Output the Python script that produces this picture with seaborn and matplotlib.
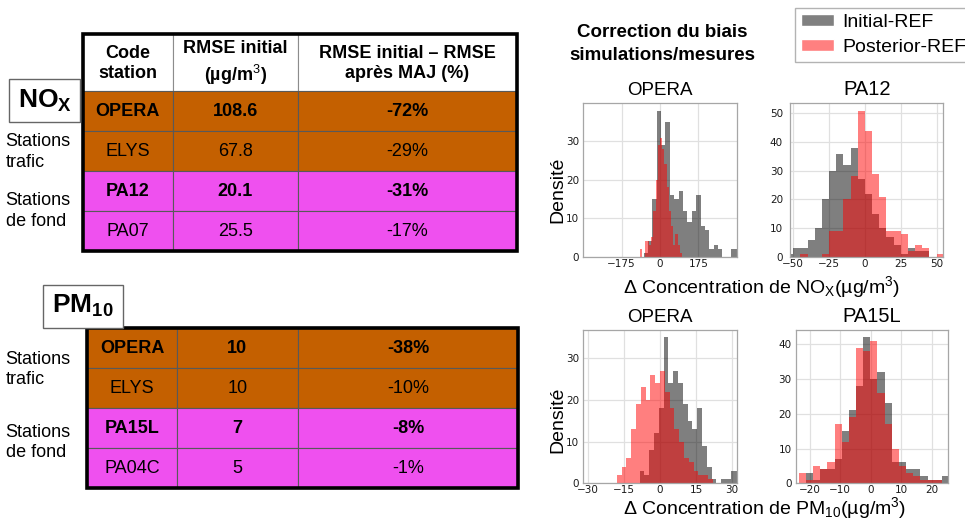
import numpy as np
import pandas as pd
import seaborn as sns
import matplotlib.pyplot as plt
from matplotlib.patches import Rectangle, Patch

# ---------------------------------------------------------------- tables --- #
headers = ['Code\nstation', 'RMSE initial\n(µg/m$^\\mathrm{3}$)', 'RMSE initial – RMSE\naprès MAJ (%)']
nox_codes = ['OPERA', 'ELYS', 'PA12', 'PA07']
nox_rmse = ['108.6', '67.8', '20.1', '25.5']
nox_gain = ['-72%', '-29%', '-31%', '-17%']
pm_codes = ['OPERA', 'ELYS', 'PA15L', 'PA04C']
pm_rmse = ['10', '10', '7', '5']
pm_gain = ['-38%', '-10%', '-8%', '-1%']
row_kind = ['trafic', 'trafic', 'fond', 'fond']
row_bold = [True, False, True, False]
kind_color = {'trafic': '#C46000', 'fond': '#EF50EF'}
kind_label = {'trafic': 'Stations\ntrafic', 'fond': 'Stations\nde fond'}

# ------------------------------------------------------------ histograms --- #
# NOx OPERA
nox_op_init_edges = np.arange(-75, 366, 20)
nox_op_init = [1, 4, 15, 38, 29, 35, 16, 15, 17, 12, 9, 12, 16, 8, 7, 2, 3, 2, 0, 0, 2, 2]
nox_op_post_edges = np.arange(-90, 111, 10)
nox_op_post = [2, 0, 4, 4, 3, 5, 12, 20, 29, 31, 28, 24, 18, 12, 8, 3, 6, 3, 1, 0]
# NOx PA12
nox_pa_edges = np.arange(-55, 56, 5)
nox_pa_init = [1, 3, 3, 6, 10, 20, 30, 36, 32, 38, 27, 22, 15, 10, 7, 4, 1, 3, 2, 2, 0, 0]
nox_pa_post = [0, 0, 1, 0, 0, 1, 9, 9, 20, 28, 51, 44, 29, 21, 9, 9, 8, 2, 4, 3, 0, 1]
# PM10 OPERA
pm_op_init_edges = np.arange(-8.5, 34, 2)
pm_op_init = [3, 2, 8, 12, 18, 35, 24, 27, 24, 19, 15, 13, 18, 9, 4, 1, 0, 1, 1, 3, 3]
pm_op_post_edges = np.arange(-18, 23, 2)
pm_op_post = [2, 4, 6, 13, 19, 23, 20, 26, 24, 27, 22, 18, 13, 10, 6, 5, 3, 2, 2, 1]
# PM10 PA15L
pm_pa_edges = np.linspace(-23.6, 25.75, 22)
pm_pa_init = [0, 3, 1, 4, 4, 7, 15, 21, 28, 42, 30, 32, 23, 6, 6, 4, 4, 2, 1, 1, 2]
pm_pa_post = [3, 1, 5, 4, 6, 17, 12, 19, 39, 38, 41, 26, 17, 10, 5, 3, 2, 1, 1, 1, 0]

W, H = 965, 522

sns.set_theme(style='whitegrid', rc={'axes.edgecolor': '0.65', 'grid.color': '0.88',
                                     'grid.linewidth': 0.9, 'axes.linewidth': 0.9})
plt.rcParams['font.family'] = ['Liberation Sans', 'DejaVu Sans']
plt.rcParams['text.color'] = 'black'
plt.rcParams['axes.titlecolor'] = 'black'
plt.rcParams['mathtext.fontset'] = 'custom'
plt.rcParams['mathtext.rm'] = 'Liberation Sans'
plt.rcParams['mathtext.bf'] = 'Liberation Sans:bold'
plt.rcParams['mathtext.it'] = 'Liberation Sans:italic'

fig = plt.figure(figsize=(W / 100, H / 100), dpi=100)
bg = fig.add_axes([0, 0, 1, 1])
bg.set_xlim(0, W)
bg.set_ylim(H, 0)
bg.axis('off')


def draw_table(ax, col_x, row_y, codes, rmse, gain, header_top=None):
    if header_top is not None:
        for j, txt in enumerate(headers):
            ax.add_patch(Rectangle((col_x[j], header_top), col_x[j + 1] - col_x[j], row_y[0] - header_top,
                                   facecolor='white', edgecolor='0.55', lw=0.8))
            ax.text((col_x[j] + col_x[j + 1]) / 2, (header_top + row_y[0]) / 2 + 1, txt, ha='center',
                    va='center', fontsize=13, fontweight='bold', linespacing=1.3)
    for i, row in enumerate(zip(codes, rmse, gain)):
        y0, y1 = row_y[i], row_y[i + 1]
        for j, txt in enumerate(row):
            x0, x1 = col_x[j], col_x[j + 1]
            ax.add_patch(Rectangle((x0, y0), x1 - x0, y1 - y0, facecolor=kind_color[row_kind[i]],
                                   edgecolor='0.35', lw=0.8))
            ax.text((x0 + x1) / 2, (y0 + y1) / 2 + 1, txt, ha='center', va='center', fontsize=13,
                    fontweight='bold' if row_bold[i] else 'normal')
    top = row_y[0] if header_top is None else header_top
    ax.add_patch(Rectangle((col_x[0], top), col_x[-1] - col_x[0], row_y[-1] - top,
                           facecolor='none', edgecolor='black', lw=2.6))


draw_table(bg, [82.7, 172.7, 298.3, 516.7], [90.7, 130.7, 170.7, 210.7, 250.7],
           nox_codes, nox_rmse, nox_gain, header_top=34.3)
draw_table(bg, [87.3, 176.7, 297.7, 518.3], [327.7, 367.7, 407.7, 447.7, 487.7],
           pm_codes, pm_rmse, pm_gain)

# pollutant boxes
bg.add_patch(Rectangle((9.3, 79.3), 70.7, 42.4, facecolor='white', edgecolor='0.4', lw=1))
bg.text(44.6, 101, 'NO$_\\mathbf{X}$', ha='center', va='center', fontsize=19, fontweight='bold')
bg.add_patch(Rectangle((42.7, 284.7), 80, 43.6, facecolor='white', edgecolor='0.4', lw=1))
bg.text(82.7, 306, 'PM$_\\mathbf{10}$', ha='center', va='center', fontsize=19, fontweight='bold')

# station group labels
for y, kind in [(152, 'trafic'), (211, 'fond'), (369.5, 'trafic'), (442.5, 'fond')]:
    bg.text(5.5, y, kind_label[kind], ha='left', va='center', fontsize=13, linespacing=1.3)

# title + legend
fig.text(662 / W, 1 - 44 / H, 'Correction du biais\nsimulations/mesures', ha='center', va='center',
         fontsize=13.5, fontweight='bold', linespacing=1.45)
handles = [Patch(facecolor='#808080', label='Initial-REF'), Patch(facecolor='#FF8080', label='Posterior-REF')]
fig.legend(handles=handles, loc='upper left', bbox_to_anchor=(795 / W, 1 - 8 / H), fontsize=14,
           frameon=True, fancybox=False, edgecolor='0.7', framealpha=1, handlelength=1.7,
           handleheight=0.55, labelspacing=0.42, borderpad=0.3, handletextpad=0.45, borderaxespad=0)


def add_ax(x0, y0, x1, y1):
    return fig.add_axes([x0 / W, 1 - y1 / H, (x1 - x0) / W, (y1 - y0) / H])


def hist_panel(ax, init_edges, init_counts, post_edges, post_counts, xlim, xticks, yticks, title, tsize,
               ypad=3):
    for edges, counts, col in [(init_edges, init_counts, 'black'), (post_edges, post_counts, 'red')]:
        edges = [float(e) for e in edges]
        centers = [(a + b) / 2 for a, b in zip(edges[:-1], edges[1:])]
        d = pd.DataFrame({'x': centers, 'n': counts})
        sns.histplot(data=d, x='x', weights='n', bins=edges, color=col, alpha=0.5, linewidth=0, ax=ax)
    ax.set_xlim(xlim)
    ax.set_xticks(xticks)
    ax.set_yticks(yticks)
    ax.set_xlabel('')
    ax.set_ylabel('')
    ax.tick_params(labelsize=7.5, length=0, colors='0.1')
    ax.tick_params(axis='x', pad=1.5)
    ax.tick_params(axis='y', pad=ypad)
    for lab in ax.get_xticklabels() + ax.get_yticklabels():
        lab.set_fontfamily('DejaVu Sans')
    ax.set_title(title, fontsize=tsize, pad=6)


ax1 = add_ax(583.3, 103.3, 736.7, 256.7)
hist_panel(ax1, nox_op_init_edges, nox_op_init, nox_op_post_edges, nox_op_post,
           (-350, 350), [-175, 0, 175], [0, 10, 20, 30], 'OPERA', 13.5)
ax2 = add_ax(790, 103.3, 943.3, 256.7)
hist_panel(ax2, nox_pa_edges, nox_pa_init, nox_pa_edges, nox_pa_post,
           (-52.3, 54.7), [-50, -25, 0, 25, 50], [0, 10, 20, 30, 40, 50], 'PA12', 14.5, ypad=5)
ax3 = add_ax(583.3, 330, 736.7, 483.3)
hist_panel(ax3, pm_op_init_edges, pm_op_init, pm_op_post_edges, pm_op_post,
           (-32, 32), [-30, -15, 0, 15, 30], [0, 10, 20, 30], 'OPERA', 13.5)
ax4 = add_ax(795.7, 330, 948.3, 483.3)
hist_panel(ax4, pm_pa_edges, pm_pa_init, pm_pa_edges, pm_pa_post,
           (-24.6, 25.5), [-20, -10, 0, 10, 20], [0, 10, 20, 30, 40], 'PA15L', 14.5)

for y in [190, 420]:
    fig.text(558 / W, 1 - y / H, 'Densité', rotation=90, ha='center', va='center', fontsize=14)
fig.text(762 / W, 1 - 287 / H, 'Δ Concentration de NO$_\\mathrm{X}$(µg/m$^\\mathrm{3}$)',
         ha='center', va='center', fontsize=14)
fig.text(765 / W, 1 - 508 / H, 'Δ Concentration de PM$_\\mathrm{10}$(µg/m$^\\mathrm{3}$)',
         ha='center', va='center', fontsize=14)

fig.savefig('out.png', dpi=100)
